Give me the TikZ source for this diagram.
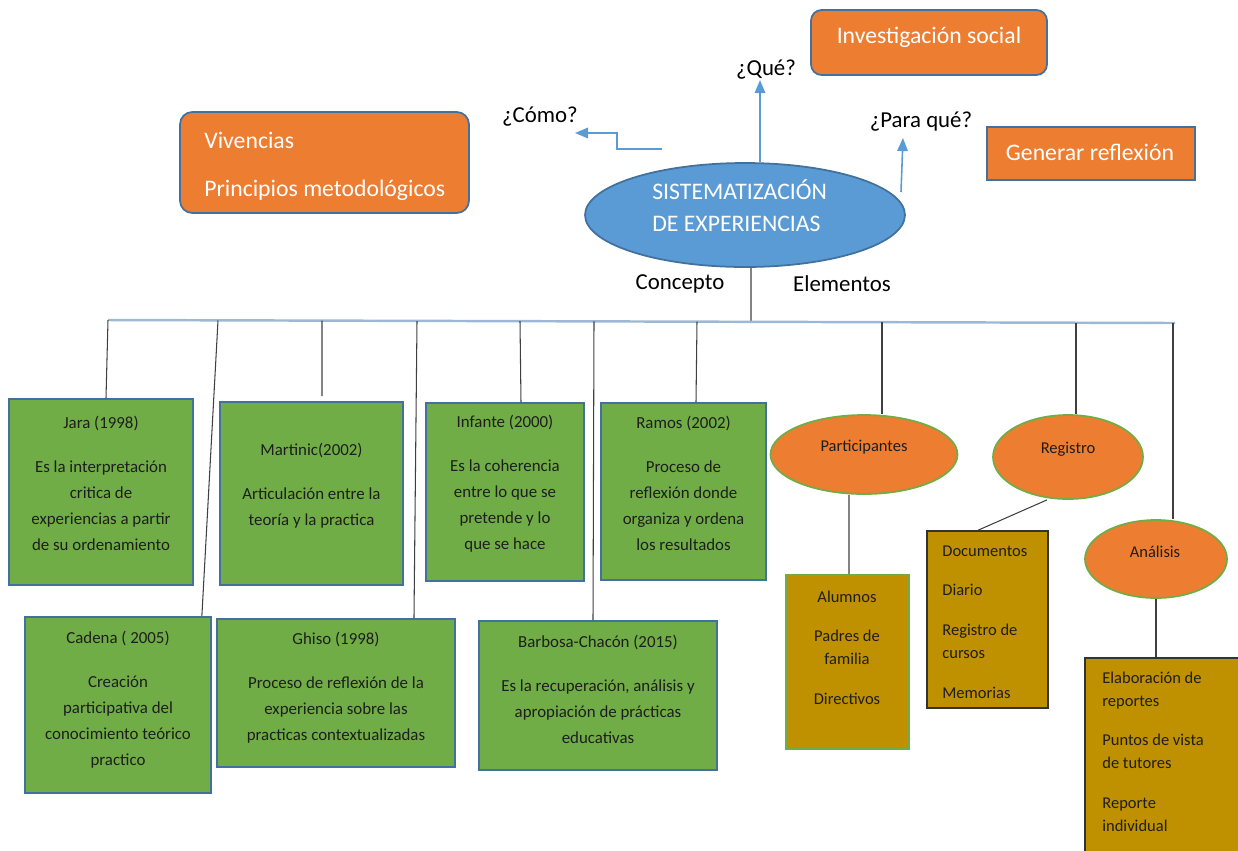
\documentclass[tikz,border=0pt]{standalone}
\usepackage{fontspec}
\setmainfont{Carlito}
\usetikzlibrary{shapes.geometric,arrows.meta}
\definecolor{orng}{HTML}{ED7D31}
\definecolor{sblue}{HTML}{5B9BD5}
\definecolor{bblue}{HTML}{41719C}
\definecolor{grn}{HTML}{70AD47}
\definecolor{gold}{HTML}{BF9000}
\definecolor{barc}{HTML}{9DB8D4}
\definecolor{lnc}{HTML}{404040}
\definecolor{txt}{HTML}{1E1E1E}
\begin{document}
\begin{tikzpicture}[x=0.02cm,y=-0.02cm,
  obox/.style={draw=bblue, line width=1pt, fill=orng, inner sep=0},
  gbox/.style={draw=bblue, line width=1pt, fill=grn, inner sep=0},
  gtxt/.style={align=center, text=txt, inner sep=0, font=\fontsize{9.6}{14.75}\selectfont},
  oell/.style={ellipse, draw=grn, line width=1pt, fill=orng, inner sep=0},
  ybox/.style={fill=gold, draw=#1, line width=0.9pt, inner sep=0},
  ytxt/.style={text=txt, inner sep=0, font=\fontsize{9.4}{13}\selectfont},
  wtxt/.style={text=white, inner sep=0, font=\fontsize{13.5}{16}\selectfont},
  qtxt/.style={text=black, inner sep=0, font=\fontsize{13}{15.6}\selectfont},
  conn/.style={draw=lnc, line width=0.6pt},
  arr/.style={draw=sblue, line width=0.9pt, -{Triangle[length=7.4pt,width=6pt]}},
  bar/.style={draw=barc, line width=1.4pt}
]
\useasboundingbox (0,0) rectangle (1238,850);
\clip (0,0) rectangle (1238,850);

% ---------- top ----------
\node[obox, rounded corners=6pt, minimum width=4.72cm, minimum height=1.3cm] (inv) at (929,42.5) {};
\node[wtxt] (invt) at (929,37) {Investigación social};

\node[obox, rounded corners=7pt, minimum width=5.78cm, minimum height=2.02cm] (viv) at (324.5,162.5) {};
\node[wtxt, align=left, anchor=west, font=\fontsize{13.5}{27.2}\selectfont] (vivt) at (204,166) {Vivencias\\Principios metodológicos};

\node[obox, minimum width=4.16cm, minimum height=1.06cm] (gen) at (1091,153.5) {};
\node[wtxt] (gent) at (1090,152) {Generar reflexión};

\node[ellipse, draw=bblue, line width=1pt, fill=sblue, inner sep=0, minimum width=6.4cm, minimum height=2.08cm] (sis) at (745,215) {};
\node[text=white, inner sep=0, align=left, anchor=west, font=\fontsize{13.5}{18.1}\selectfont] (sist) at (652,206) {SISTEMATIZACIÓN\\DE EXPERIENCIAS};

\node[qtxt] (que) at (766,70) {¿Qué?};
\node[qtxt] (como) at (540,117) {¿Cómo?};
\node[qtxt] (para) at (921,122) {¿Para qué?};

\coordinate (c1) at (662,149);
\coordinate (c2) at (575,133);
\coordinate (p1) at (901,192);
\coordinate (p2) at (903,138);
\draw[arr] ([xshift=0.3cm]sis.north) -- ([xshift=0.3cm]sis.north |- que.south);
\draw[arr] (c1) -- ++(-45,0) |- (c2);
\draw[arr] (p1) -- (p2);

\node[qtxt] (conc) at (680,284) {Concepto};
\node[qtxt] (elem) at (842,284) {Elementos};

% ---------- bar ----------
\coordinate (hub) at (751,322);
\coordinate (barL) at (108,320);
\coordinate (barR) at (1175,323);
\draw[conn] ([xshift=0.12cm]sis.south) -- (hub);
\draw[bar] (barL) -- (barR);

% ---------- green boxes ----------
\node[gbox, minimum width=3.68cm, minimum height=3.72cm] (jara) at (101,492) {};
\node[gtxt] (jarat) at (101,483.5) {Jara (1998)\\[10.2pt]Es la interpretación\\critica de\\experiencias a partir\\de su ordenamiento};

\node[gbox, minimum width=3.66cm, minimum height=3.66cm] (mart) at (311.5,493.5) {};
\node[gtxt] (martt) at (311.5,485.5) {Martinic(2002)\\[10.2pt]Articulación entre la\\teoría y la practica};

\node[gbox, minimum width=3.72cm, minimum height=3.52cm] (cad) at (118,705) {};
\node[gtxt] (cadt) at (118,699.5) {Cadena ( 2005)\\[10.2pt]Creación\\participativa del\\conocimiento teórico\\practico};

\node[gbox, minimum width=4.76cm, minimum height=2.96cm] (ghi) at (336,693) {};
\node[gtxt] (ghit) at (336,687.5) {Ghiso (1998)\\[10.2pt]Proceso de reflexión de la\\experiencia sobre las\\practicas contextualizadas};

\node[gbox, minimum width=3.16cm, minimum height=3.56cm] (inf) at (505,492) {};
\node[gtxt] (inft) at (505,483.5) {Infante (2000)\\[10.2pt]Es la coherencia\\entre lo que se\\pretende y lo\\que se hace};

\node[gbox, minimum width=3.3cm, minimum height=3.54cm] (ram) at (683.5,491.5) {};
\node[gtxt] (ramt) at (683.5,483.5) {Ramos (2002)\\[10.2pt]Proceso de\\reflexión donde\\organiza y ordena\\los resultados};

\node[gbox, minimum width=4.76cm, minimum height=2.98cm] (bar) at (598,695.5) {};
\node[gtxt] (bart) at (598,689.5) {Barbosa-Chacón (2015)\\[10.2pt]Es la recuperación, análisis y\\apropiación de prácticas\\educativas};

% ---------- orange ellipses ----------
\node[oell, minimum width=3.74cm, minimum height=1.58cm] (pel) at (864,454.5) {};
\node[ytxt] (pelt) at (864,447) {Participantes};
\node[oell, minimum width=3.0cm, minimum height=1.68cm] (rel) at (1068,457) {};
\node[ytxt] (relt) at (1068,449) {Registro};
\node[oell, minimum width=2.84cm, minimum height=1.56cm] (ael) at (1156,559) {};
\node[ytxt] (aelt) at (1155,552) {Análisis};

% ---------- gold boxes ----------
\node[ybox=grn, minimum width=2.46cm, minimum height=3.48cm] (pbox) at (847.5,662) {};
\node[ytxt, align=center] (pboxt) at (847,647.5) {Alumnos\\[9.6pt]Padres de\\familia\\[9.6pt]Directivos};

\node[ybox=black!80, minimum width=2.42cm, minimum height=3.54cm] (rbox) at (987.5,619.5) {};
\node[ytxt, align=left, anchor=west] (rboxt) at (942,622) {Documentos\\[9.6pt]Diario\\[9.6pt]Registro de\\cursos\\[9.6pt]Memorias};

\node[ybox=black!80, minimum width=3.3cm, minimum height=4.04cm] (abox) at (1167.5,759) {};
\node[ytxt, align=left, anchor=west] (aboxt) at (1102,751.5) {Elaboración de\\reportes\\[9.6pt]Puntos de vista\\de tutores\\[9.6pt]Reporte\\individual};

% ---------- connectors ----------
\coordinate (d1) at (108,320);
\coordinate (d2) at (218,320.5);
\coordinate (d3) at (322,320.6);
\coordinate (d4) at (417,321);
\coordinate (d5) at (520,321.2);
\coordinate (d6) at (594,321.4);
\coordinate (d7) at (697,321.6);
\coordinate (d8) at (882,322.2);
\coordinate (d9) at (1076,322.8);
\coordinate (d10) at (1173,323);
\draw[conn] (d1) -- ([xshift=0.1cm]jara.north);
\draw[conn] (d2) -- ([xshift=-0.2cm]cad.north east);
\draw[conn] (d3) -- ([xshift=0.21cm,yshift=0.1cm]mart.north);
\draw[conn] (d4) -- ([xshift=1.56cm]ghi.north);
\draw[conn] (d5) -- ([xshift=0.32cm]inf.north);
\draw[conn] (d6) -- ([xshift=-0.1cm]bar.north);
\draw[conn] (d7) -- ([xshift=0.25cm]ram.north);
\draw[conn] (d8) -- (d8 |- pel.north);
\draw[conn] (d9) -- (d9 |- rel.north);
\draw[conn] (d10) -- (d10 |- ael.north);

\draw[conn] ([xshift=-0.3cm]pel.south) -- ([xshift=0.03cm]pbox.north);
\draw[conn] ([xshift=-0.42cm]rel.south) -- ([xshift=-0.19cm]rbox.north);
\draw[conn] (ael.south) -- (ael.south |- abox.north);
\end{tikzpicture}
\end{document}
